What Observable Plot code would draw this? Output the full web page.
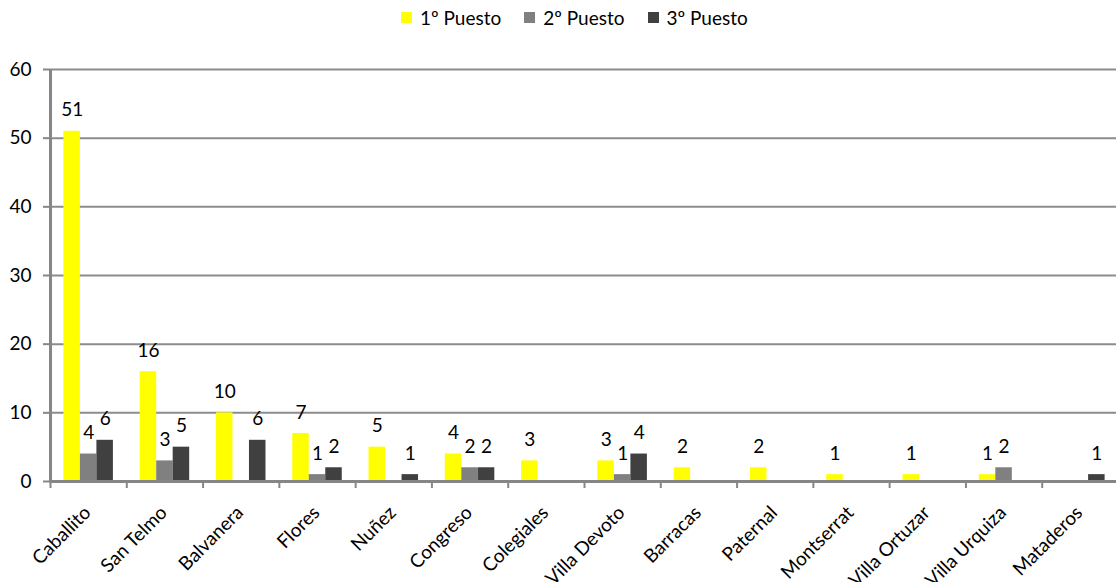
<!DOCTYPE html>
<html>
<head>
<meta charset="utf-8">
<script src="https://cdn.jsdelivr.net/npm/d3@7"></script>
<script src="https://cdn.jsdelivr.net/npm/@observablehq/plot@0.6"></script>
<style>
  html, body { margin: 0; padding: 0; background: #fff; }
  #wrap { position: relative; width: 1116px; height: 582px; font-family: Lato, "Noto Sans", sans-serif; }
  #legend { position: absolute; top: 6px; left: 401px; display: flex; align-items: center; font-size: 19px; color: #000; white-space: nowrap; }
  #legend .item { display: flex; align-items: center; margin-right: 23px; }
  #legend .sw { width: 11px; height: 11px; margin-right: 8px; }
</style>
</head>
<body>
<div id="wrap"><div id="legend"></div></div>
<script>
const categories = ["Caballito","San Telmo","Balvanera","Flores","Nuñez","Congreso","Colegiales","Villa Devoto","Barracas","Paternal","Montserrat","Villa Ortuzar","Villa Urquiza","Mataderos"];
const series = ["1º Puesto","2º Puesto","3º Puesto"];
const primero = [51,16,10,7,5,4,3,3,2,2,1,1,1,0];
const segundo = [4,3,0,1,0,2,0,1,0,0,0,0,2,0];
const tercero = [6,5,6,2,1,2,0,4,0,0,0,0,0,1];
const colors = ["#FFFF00","#808080","#404040"];
const yTicks = [0,10,20,30,40,50,60];

const values = [primero, segundo, tercero];
const rows = [];
series.forEach((s, j) => categories.forEach((c, i) => rows.push({cat: c, series: s, j, value: values[j][i]})));

const W = 1116, H = 582, mL = 50, mR = -2, mT = 69, mB = 101;
const band = (W - mL - mR) / categories.length;
const bw = 16.5;
const pad = (band - 3 * bw) / 2;
const axisGray = "#868686";
const font = "Lato, 'Noto Sans', sans-serif";

const marks = [
  Plot.ruleY(yTicks.filter(v => v > 0), {stroke: "#8c8c8c", strokeWidth: 2}),
];
series.forEach((s, j) => {
  const d = rows.filter(r => r.j === j && r.value > 0);
  marks.push(Plot.barY(d, {x: "cat", y: "value", fill: colors[j], insetLeft: pad + j * bw, insetRight: pad + (2 - j) * bw}));
  marks.push(Plot.text(d, {x: "cat", y: "value", text: r => String(r.value), dx: (j - 1) * bw, dy: -21, fontSize: 19, fill: "#000"}));
});
marks.push(
  Plot.ruleY([0], {stroke: axisGray, strokeWidth: 3}),
  Plot.ruleX([categories[0]], {dx: -band / 2, stroke: axisGray, strokeWidth: 3}),
  Plot.axisY({ticks: yTicks, tickSize: 7, tickPadding: 12, stroke: axisGray, strokeWidth: 2, fontSize: 19, fill: "#000", label: null}),
  Plot.axisX({text: null, tickSize: 7, dx: -band / 2, stroke: axisGray, strokeWidth: 2, label: null}),
  Plot.axisX({tickSize: 0, tickPadding: 28, dx: -1, tickRotate: -45, fontSize: 19, fill: "#000", label: null})
);

const chart = Plot.plot({
  width: W, height: H,
  marginLeft: mL, marginRight: mR, marginTop: mT, marginBottom: mB,
  style: {fontFamily: font, background: "transparent", overflow: "visible"},
  x: {type: "band", domain: categories, padding: 0, round: false, label: null},
  y: {domain: [0, 60], label: null},
  marks
});
document.getElementById("wrap").appendChild(chart);

const legend = document.getElementById("legend");
series.forEach((s, j) => {
  const it = document.createElement("div");
  it.className = "item";
  const sw = document.createElement("div");
  sw.className = "sw";
  sw.style.background = colors[j];
  const t = document.createElement("span");
  t.textContent = s;
  it.appendChild(sw); it.appendChild(t);
  legend.appendChild(it);
});
</script>
</body>
</html>
